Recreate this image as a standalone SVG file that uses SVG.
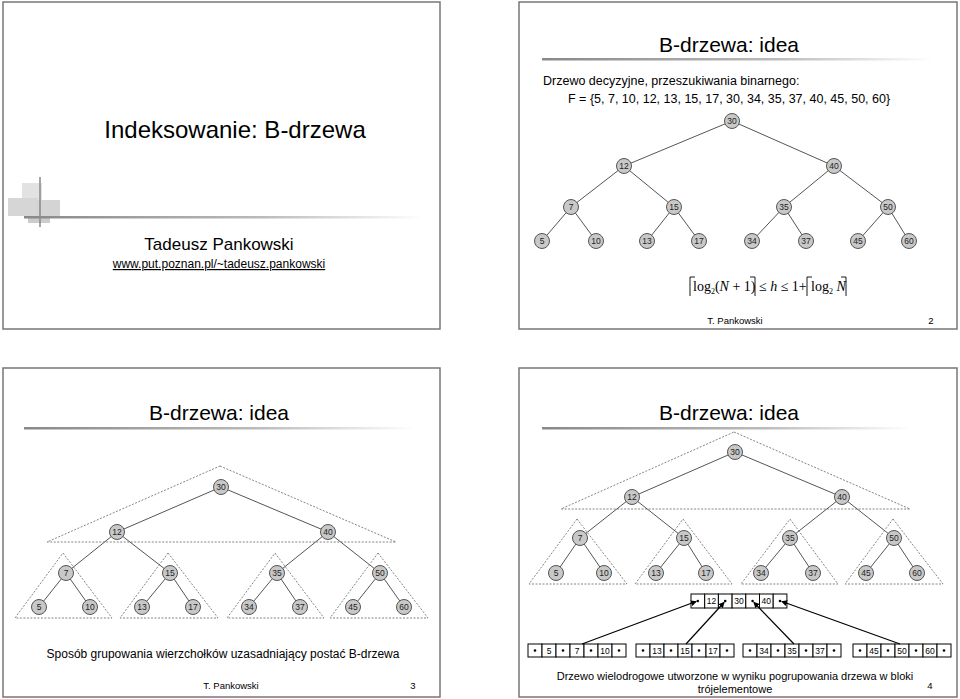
<svg xmlns="http://www.w3.org/2000/svg" width="960" height="699" viewBox="0 0 960 699">
<style>
.slide{fill:#fff;stroke:#777;stroke-width:1.5}
.t{font-family:"Liberation Sans",Arial,sans-serif;fill:#000}
.n circle{fill:#c8c8c8;stroke:#555;stroke-width:1}
.n text{font-family:"Liberation Sans",Arial,sans-serif;font-size:8.5px;text-anchor:middle;fill:#222}
.e line{stroke:#555;stroke-width:1}
.d{fill:none;stroke:#666;stroke-width:0.8;stroke-dasharray:2,1.5}
.c rect{fill:#fff;stroke:#000;stroke-width:1}
.c text{font-family:"Liberation Sans",Arial,sans-serif;font-size:8.5px;text-anchor:middle}
.p line{stroke:#000;stroke-width:1.2}
.f{font-family:"Liberation Serif","Times New Roman",serif;font-size:14px}
.br{fill:none;stroke:#000;stroke-width:0.9}
</style>
<defs>
<linearGradient id="ul" x1="0" x2="1"><stop offset="0" stop-color="#888"/><stop offset="0.6" stop-color="#bbb"/><stop offset="1" stop-color="#fff"/></linearGradient>
<marker id="ah" viewBox="0 0 6 6" refX="5" refY="3" markerWidth="5" markerHeight="5" orient="auto"><path d="M0,0L6,3L0,6z" fill="#000"/></marker>
<g id="pd"><circle r="1.3" fill="#000"/></g>
</defs>
<rect width="960" height="699" fill="#fff"/>

<g id="slide1">
<rect class="slide" x="3" y="2" width="437" height="327"/>
<rect x="22" y="183" width="20" height="20" fill="#e2e2e2"/>
<rect x="8" y="198" width="30" height="18" fill="#d6d6d6"/>
<rect x="36" y="200" width="24" height="17" fill="#d4d4d4"/>
<rect x="28" y="217" width="22" height="6" fill="#ccc"/>
<line x1="40" y1="177" x2="40" y2="227" stroke="#888" stroke-width="1.5"/>
<rect x="24" y="216" width="400" height="2.5" fill="url(#ul)"/>
<text class="t" x="235" y="138" font-size="24" text-anchor="middle">Indeksowanie: B-drzewa</text>
<text class="t" x="219" y="250" font-size="17" text-anchor="middle">Tadeusz Pankowski</text>
<text class="t" x="219" y="268" font-size="12" text-anchor="middle" text-decoration="underline">www.put.poznan.pl/~tadeusz.pankowski</text>
</g>

<g id="slide2">
<rect class="slide" x="519" y="2" width="438" height="327"/>
<text class="t" x="729" y="52" font-size="21" text-anchor="middle">B-drzewa: idea</text>
<rect x="542" y="58" width="392" height="2.5" fill="url(#ul)"/>
<text class="t" x="543" y="85" font-size="12.5">Drzewo decyzyjne, przeszukiwania binarnego:</text>
<text class="t" x="568" y="103" font-size="12.5">F = {5, 7, 10, 12, 13, 15, 17, 30, 34, 35, 37, 40, 45, 50, 60}</text>
<g class="e">
<line x1="732" y1="121" x2="624" y2="166"/><line x1="732" y1="121" x2="834" y2="166"/>
<line x1="624" y1="166" x2="571" y2="207"/><line x1="624" y1="166" x2="674" y2="207"/>
<line x1="834" y1="166" x2="784" y2="207"/><line x1="834" y1="166" x2="888" y2="207"/>
<line x1="571" y1="207" x2="542" y2="241"/><line x1="571" y1="207" x2="596" y2="241"/>
<line x1="674" y1="207" x2="647" y2="241"/><line x1="674" y1="207" x2="699" y2="241"/>
<line x1="784" y1="207" x2="752" y2="241"/><line x1="784" y1="207" x2="806" y2="241"/>
<line x1="888" y1="207" x2="858" y2="241"/><line x1="888" y1="207" x2="909" y2="241"/>
</g>
<g class="n">
<g id="s2n30"><circle cx="732" cy="121" r="7.5"/><text x="732" y="124">30</text></g>
<g id="s2n12"><circle cx="624" cy="166" r="7.5"/><text x="624" y="169">12</text></g>
<g id="s2n40"><circle cx="834" cy="166" r="7.5"/><text x="834" y="169">40</text></g>
<g id="s2n7"><circle cx="571" cy="207" r="7.5"/><text x="571" y="210">7</text></g>
<g id="s2n15"><circle cx="674" cy="207" r="7.5"/><text x="674" y="210">15</text></g>
<g id="s2n35"><circle cx="784" cy="207" r="7.5"/><text x="784" y="210">35</text></g>
<g id="s2n50"><circle cx="888" cy="207" r="7.5"/><text x="888" y="210">50</text></g>
<g id="s2n5"><circle cx="542" cy="241" r="7.5"/><text x="542" y="244">5</text></g>
<g id="s2n10"><circle cx="596" cy="241" r="7.5"/><text x="596" y="244">10</text></g>
<g id="s2n13"><circle cx="647" cy="241" r="7.5"/><text x="647" y="244">13</text></g>
<g id="s2n17"><circle cx="699" cy="241" r="7.5"/><text x="699" y="244">17</text></g>
<g id="s2n34"><circle cx="752" cy="241" r="7.5"/><text x="752" y="244">34</text></g>
<g id="s2n37"><circle cx="806" cy="241" r="7.5"/><text x="806" y="244">37</text></g>
<g id="s2n45"><circle cx="858" cy="241" r="7.5"/><text x="858" y="244">45</text></g>
<g id="s2n60"><circle cx="909" cy="241" r="7.5"/><text x="909" y="244">60</text></g>
</g>
<g id="formula">
<path class="br" d="M690,296V277H695"/>
<text class="f" x="693" y="291">log<tspan font-size="8" dy="3">2</tspan><tspan dy="-3">(</tspan><tspan font-style="italic">N</tspan> + 1)</text>
<path class="br" d="M755,296V277H750"/>
<text class="f" x="759" y="291">≤ <tspan font-style="italic">h</tspan> ≤ 1+</text>
<path class="br" d="M807,296V277H812"/>
<text class="f" x="811" y="291">log<tspan font-size="8" dy="3">2</tspan><tspan dy="-3" font-style="italic"> N</tspan></text>
<path class="br" d="M846,296V277H841"/>
</g>
<text class="t" x="735" y="324" font-size="9.5" text-anchor="middle">T. Pankowski</text>
<text class="t" x="931" y="324" font-size="9.5" text-anchor="middle">2</text>
</g>

<g id="slide3">
<rect class="slide" x="3" y="368" width="437" height="329"/>
<text class="t" x="219" y="420" font-size="21" text-anchor="middle">B-drzewa: idea</text>
<rect x="24" y="427" width="392" height="2.5" fill="url(#ul)"/>
<path class="d" d="M220,466L396,542H47Z"/>
<path class="d" d="M63,553L112,618H15Z"/>
<path class="d" d="M168,553L218,618H120Z"/>
<path class="d" d="M275,553L324,618H227Z"/>
<path class="d" d="M378,553L428,618H330Z"/>
<g class="e">
<line x1="221" y1="487" x2="117" y2="532"/><line x1="221" y1="487" x2="328" y2="532"/>
<line x1="117" y1="532" x2="66" y2="573"/><line x1="117" y1="532" x2="170" y2="573"/>
<line x1="328" y1="532" x2="277" y2="573"/><line x1="328" y1="532" x2="380" y2="573"/>
<line x1="66" y1="573" x2="39" y2="607"/><line x1="66" y1="573" x2="90" y2="607"/>
<line x1="170" y1="573" x2="142" y2="607"/><line x1="170" y1="573" x2="193" y2="607"/>
<line x1="277" y1="573" x2="249" y2="607"/><line x1="277" y1="573" x2="300" y2="607"/>
<line x1="380" y1="573" x2="353" y2="607"/><line x1="380" y1="573" x2="404" y2="607"/>
</g>
<g class="n">
<g id="s3n30"><circle cx="221" cy="487" r="7.5"/><text x="221" y="490">30</text></g>
<g id="s3n12"><circle cx="117" cy="532" r="7.5"/><text x="117" y="535">12</text></g>
<g id="s3n40"><circle cx="328" cy="532" r="7.5"/><text x="328" y="535">40</text></g>
<g id="s3n7"><circle cx="66" cy="573" r="7.5"/><text x="66" y="576">7</text></g>
<g id="s3n15"><circle cx="170" cy="573" r="7.5"/><text x="170" y="576">15</text></g>
<g id="s3n35"><circle cx="277" cy="573" r="7.5"/><text x="277" y="576">35</text></g>
<g id="s3n50"><circle cx="380" cy="573" r="7.5"/><text x="380" y="576">50</text></g>
<g id="s3n5"><circle cx="39" cy="607" r="7.5"/><text x="39" y="610">5</text></g>
<g id="s3n10"><circle cx="90" cy="607" r="7.5"/><text x="90" y="610">10</text></g>
<g id="s3n13"><circle cx="142" cy="607" r="7.5"/><text x="142" y="610">13</text></g>
<g id="s3n17"><circle cx="193" cy="607" r="7.5"/><text x="193" y="610">17</text></g>
<g id="s3n34"><circle cx="249" cy="607" r="7.5"/><text x="249" y="610">34</text></g>
<g id="s3n37"><circle cx="300" cy="607" r="7.5"/><text x="300" y="610">37</text></g>
<g id="s3n45"><circle cx="353" cy="607" r="7.5"/><text x="353" y="610">45</text></g>
<g id="s3n60"><circle cx="404" cy="607" r="7.5"/><text x="404" y="610">60</text></g>
</g>
<text class="t" x="223" y="658" font-size="12" text-anchor="middle">Sposób grupowania wierzchołków uzasadniający postać B-drzewa</text>
<text class="t" x="231" y="689" font-size="9.5" text-anchor="middle">T. Pankowski</text>
<text class="t" x="413" y="689" font-size="9.5" text-anchor="middle">3</text>
</g>

<g id="slide4">
<rect class="slide" x="519" y="368" width="438" height="329"/>
<text class="t" x="729" y="420" font-size="21" text-anchor="middle">B-drzewa: idea</text>
<rect x="542" y="427" width="370" height="2.5" fill="url(#ul)"/>
<path class="d" d="M734,432L910,509H561Z"/>
<path class="d" d="M577,519L627,584H529Z"/>
<path class="d" d="M683,519L732,584H635Z"/>
<path class="d" d="M790,519L838,584H741Z"/>
<path class="d" d="M893,519L943,584H845Z"/>
<g class="e">
<line x1="735" y1="452" x2="632" y2="497"/><line x1="735" y1="452" x2="842" y2="497"/>
<line x1="632" y1="497" x2="580" y2="538"/><line x1="632" y1="497" x2="684" y2="538"/>
<line x1="842" y1="497" x2="790" y2="538"/><line x1="842" y1="497" x2="894" y2="538"/>
<line x1="580" y1="538" x2="556" y2="573"/><line x1="580" y1="538" x2="604" y2="573"/>
<line x1="684" y1="538" x2="656" y2="573"/><line x1="684" y1="538" x2="706" y2="573"/>
<line x1="790" y1="538" x2="761" y2="573"/><line x1="790" y1="538" x2="813" y2="573"/>
<line x1="894" y1="538" x2="866" y2="573"/><line x1="894" y1="538" x2="917" y2="573"/>
</g>
<g class="n">
<g id="s4n30"><circle cx="735" cy="452" r="7.5"/><text x="735" y="455">30</text></g>
<g id="s4n12"><circle cx="632" cy="497" r="7.5"/><text x="632" y="500">12</text></g>
<g id="s4n40"><circle cx="842" cy="497" r="7.5"/><text x="842" y="500">40</text></g>
<g id="s4n7"><circle cx="580" cy="538" r="7.5"/><text x="580" y="541">7</text></g>
<g id="s4n15"><circle cx="684" cy="538" r="7.5"/><text x="684" y="541">15</text></g>
<g id="s4n35"><circle cx="790" cy="538" r="7.5"/><text x="790" y="541">35</text></g>
<g id="s4n50"><circle cx="894" cy="538" r="7.5"/><text x="894" y="541">50</text></g>
<g id="s4n5"><circle cx="556" cy="573" r="7.5"/><text x="556" y="576">5</text></g>
<g id="s4n10"><circle cx="604" cy="573" r="7.5"/><text x="604" y="576">10</text></g>
<g id="s4n13"><circle cx="656" cy="573" r="7.5"/><text x="656" y="576">13</text></g>
<g id="s4n17"><circle cx="706" cy="573" r="7.5"/><text x="706" y="576">17</text></g>
<g id="s4n34"><circle cx="761" cy="573" r="7.5"/><text x="761" y="576">34</text></g>
<g id="s4n37"><circle cx="813" cy="573" r="7.5"/><text x="813" y="576">37</text></g>
<g id="s4n45"><circle cx="866" cy="573" r="7.5"/><text x="866" y="576">45</text></g>
<g id="s4n60"><circle cx="917" cy="573" r="7.5"/><text x="917" y="576">60</text></g>
</g>
<g class="c" id="blkTop">
<rect x="691" y="594" width="13.7" height="14"/><rect x="704.7" y="594" width="13.7" height="14"/><rect x="718.4" y="594" width="13.7" height="14"/><rect x="732.1" y="594" width="13.7" height="14"/><rect x="745.8" y="594" width="13.7" height="14"/><rect x="759.5" y="594" width="13.7" height="14"/><rect x="773.2" y="594" width="13.7" height="14"/>
<text x="711.5" y="604">12</text><text x="739" y="604">30</text><text x="766.3" y="604">40</text>
<use href="#pd" x="697.8" y="601"/><use href="#pd" x="725.2" y="601"/><use href="#pd" x="752.6" y="601"/><use href="#pd" x="780" y="601"/>
</g>
<g class="c" id="blk1">
<rect x="528" y="644" width="14" height="13"/><rect x="542" y="644" width="14" height="13"/><rect x="556" y="644" width="14" height="13"/><rect x="570" y="644" width="14" height="13"/><rect x="584" y="644" width="14" height="13"/><rect x="598" y="644" width="14" height="13"/><rect x="612" y="644" width="14" height="13"/>
<text x="549" y="653.5">5</text><text x="577" y="653.5">7</text><text x="605" y="653.5">10</text>
<use href="#pd" x="535" y="650.5"/><use href="#pd" x="563" y="650.5"/><use href="#pd" x="591" y="650.5"/><use href="#pd" x="619" y="650.5"/>
</g>
<g class="c" id="blk2">
<rect x="636" y="644" width="14" height="13"/><rect x="650" y="644" width="14" height="13"/><rect x="664" y="644" width="14" height="13"/><rect x="678" y="644" width="14" height="13"/><rect x="692" y="644" width="14" height="13"/><rect x="706" y="644" width="14" height="13"/><rect x="720" y="644" width="14" height="13"/>
<text x="657" y="653.5">13</text><text x="685" y="653.5">15</text><text x="713" y="653.5">17</text>
<use href="#pd" x="643" y="650.5"/><use href="#pd" x="671" y="650.5"/><use href="#pd" x="699" y="650.5"/><use href="#pd" x="727" y="650.5"/>
</g>
<g class="c" id="blk3">
<rect x="743" y="644" width="14" height="13"/><rect x="757" y="644" width="14" height="13"/><rect x="771" y="644" width="14" height="13"/><rect x="785" y="644" width="14" height="13"/><rect x="799" y="644" width="14" height="13"/><rect x="813" y="644" width="14" height="13"/><rect x="827" y="644" width="14" height="13"/>
<text x="764" y="653.5">34</text><text x="792" y="653.5">35</text><text x="820" y="653.5">37</text>
<use href="#pd" x="750" y="650.5"/><use href="#pd" x="778" y="650.5"/><use href="#pd" x="806" y="650.5"/><use href="#pd" x="834" y="650.5"/>
</g>
<g class="c" id="blk4">
<rect x="853" y="644" width="14" height="13"/><rect x="867" y="644" width="14" height="13"/><rect x="881" y="644" width="14" height="13"/><rect x="895" y="644" width="14" height="13"/><rect x="909" y="644" width="14" height="13"/><rect x="923" y="644" width="14" height="13"/><rect x="937" y="644" width="14" height="13"/>
<text x="874" y="653.5">45</text><text x="902" y="653.5">50</text><text x="930" y="653.5">60</text>
<use href="#pd" x="860" y="650.5"/><use href="#pd" x="888" y="650.5"/><use href="#pd" x="916" y="650.5"/><use href="#pd" x="944" y="650.5"/>
</g>
<g class="p" id="pointers">
<line x1="582" y1="644" x2="696" y2="601.5" marker-end="url(#ah)"/>
<line x1="686" y1="644" x2="724" y2="602.5" marker-end="url(#ah)"/>
<line x1="794" y1="644" x2="754" y2="602.5" marker-end="url(#ah)"/>
<line x1="900" y1="644" x2="782" y2="601.5" marker-end="url(#ah)"/>
</g>
<text class="t" x="735" y="680" font-size="11" text-anchor="middle">Drzewo wielodrogowe utworzone w wyniku pogrupowania drzewa w bloki</text>
<text class="t" x="735" y="693" font-size="11" text-anchor="middle">trójelementowe</text>
<text class="t" x="930" y="689" font-size="9.5" text-anchor="middle">4</text>
</g>
</svg>
